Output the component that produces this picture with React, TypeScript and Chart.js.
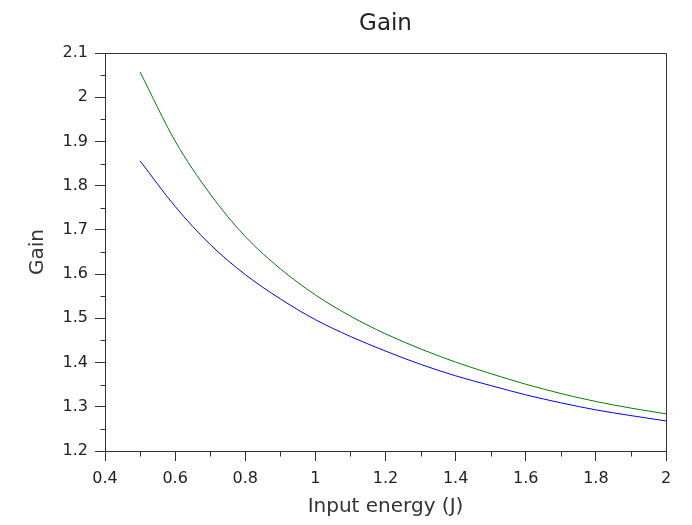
import React, { useEffect, useRef } from "react";
import { Chart, registerables } from "chart.js";

Chart.register(...registerables);

const energies = [0.5, 0.6, 0.7, 0.8, 0.9, 1.0, 1.1, 1.2, 1.3, 1.4, 1.5, 1.6, 1.7, 1.8, 1.9, 2.0];
const gainGreen = [2.057, 1.901, 1.781, 1.685, 1.612, 1.553, 1.505, 1.465, 1.431, 1.401, 1.375, 1.351, 1.330, 1.312, 1.297, 1.284];
const gainBlue = [1.856, 1.753, 1.667, 1.599, 1.544, 1.497, 1.459, 1.426, 1.396, 1.370, 1.348, 1.327, 1.309, 1.293, 1.280, 1.268];

const xTicks = [0.4, 0.6, 0.8, 1, 1.2, 1.4, 1.6, 1.8, 2];
const yTicks = [1.2, 1.3, 1.4, 1.5, 1.6, 1.7, 1.8, 1.9, 2, 2.1];
const xMinorTicks = [0.5, 0.7, 0.9, 1.1, 1.3, 1.5, 1.7, 1.9];
const yMinorTicks = [1.25, 1.35, 1.45, 1.55, 1.65, 1.75, 1.85, 1.95, 2.05];

const chartTitle = "Gain";
const xTitle = "Input energy (J)";
const yTitle = "Gain";

const FONT = "'DejaVu Sans', sans-serif";
const AXIS_COLOR = "#333";

const framePlugin = {
  id: "frame",
  afterDraw(chart: any) {
    const { ctx, chartArea } = chart;
    const xs = chart.scales.x;
    const ys = chart.scales.y;
    ctx.save();
    ctx.strokeStyle = AXIS_COLOR;
    ctx.lineWidth = 1;
    const top = Math.round(chartArea.top) + 0.5;
    const right = Math.round(chartArea.right) + 0.5;
    const left = Math.round(chartArea.left) + 0.5;
    const bottom = Math.round(chartArea.bottom) + 0.5;
    ctx.beginPath();
    ctx.moveTo(left, top);
    ctx.lineTo(right, top);
    ctx.lineTo(right, bottom);
    ctx.stroke();
    // minor ticks
    ctx.beginPath();
    xMinorTicks.forEach((v) => {
      const px = Math.round(xs.getPixelForValue(v)) + 0.5;
      ctx.moveTo(px, bottom);
      ctx.lineTo(px, bottom + 5);
    });
    yMinorTicks.forEach((v) => {
      const py = Math.round(ys.getPixelForValue(v)) + 0.5;
      ctx.moveTo(left, py);
      ctx.lineTo(left - 5, py);
    });
    ctx.stroke();
    // title
    ctx.fillStyle = "#222";
    ctx.font = `23px ${FONT}`;
    ctx.textAlign = "center";
    ctx.textBaseline = "alphabetic";
    ctx.fillText(chartTitle, (chartArea.left + chartArea.right) / 2, 30);
    ctx.restore();
  },
};

export default function App() {
  const canvasRef = useRef<HTMLCanvasElement | null>(null);

  useEffect(() => {
    if (!canvasRef.current) return;
    const chart = new Chart(canvasRef.current, {
      type: "line",
      data: {
        datasets: [
          {
            label: "green",
            data: energies.map((x, i) => ({ x, y: gainGreen[i] })),
            borderColor: "#008000",
            borderWidth: 1,
            pointRadius: 0,
            cubicInterpolationMode: "monotone",
            fill: false,
          },
          {
            label: "blue",
            data: energies.map((x, i) => ({ x, y: gainBlue[i] })),
            borderColor: "#0000ff",
            borderWidth: 1,
            pointRadius: 0,
            cubicInterpolationMode: "monotone",
            fill: false,
          },
        ],
      },
      options: {
        animation: false,
        responsive: true,
        maintainAspectRatio: false,
        layout: { padding: { top: 53, right: 26, bottom: 0, left: 0 } },
        plugins: {
          legend: { display: false },
          title: { display: false },
          tooltip: { enabled: false },
        },
        scales: {
          x: {
            type: "linear",
            min: 0.4,
            max: 2,
            afterBuildTicks: (scale: any) => {
              scale.ticks = xTicks.map((v) => ({ value: v }));
            },
            afterFit: (scale: any) => {
              scale.height = 74;
            },
            grid: { drawOnChartArea: false, tickLength: 10, color: AXIS_COLOR, tickWidth: 1 },
            border: { display: true, color: AXIS_COLOR, width: 1 },
            ticks: {
              color: "#222",
              font: { family: FONT, size: 16 },
              padding: 8,
              maxRotation: 0,
              autoSkip: false,
              callback: (v: any) => String(Number(Number(v).toFixed(2))),
            },
            title: {
              display: true,
              text: xTitle,
              color: "#333",
              font: { family: FONT, size: 20 },
              padding: { top: 0, bottom: 6 },
            },
          },
          y: {
            type: "linear",
            min: 1.2,
            max: 2.1,
            afterBuildTicks: (scale: any) => {
              scale.ticks = yTicks.map((v) => ({ value: v }));
            },
            afterFit: (scale: any) => {
              scale.width = 105;
            },
            grid: { drawOnChartArea: false, tickLength: 10, color: AXIS_COLOR, tickWidth: 1 },
            border: { display: true, color: AXIS_COLOR, width: 1 },
            ticks: {
              color: "#222",
              font: { family: FONT, size: 16 },
              padding: 7,
              autoSkip: false,
              callback: (v: any) => String(Number(Number(v).toFixed(2))),
            },
            title: {
              display: true,
              text: yTitle,
              color: "#333",
              font: { family: FONT, size: 20 },
              padding: { top: 26, bottom: 0 },
            },
          },
        },
      } as any,
      plugins: [framePlugin],
    });
    return () => chart.destroy();
  }, []);

  return (
    <div style={{ position: "fixed", left: 0, top: 0, width: 692, height: 525, background: "#fff" }}>
      <canvas ref={canvasRef} />
    </div>
  );
}
